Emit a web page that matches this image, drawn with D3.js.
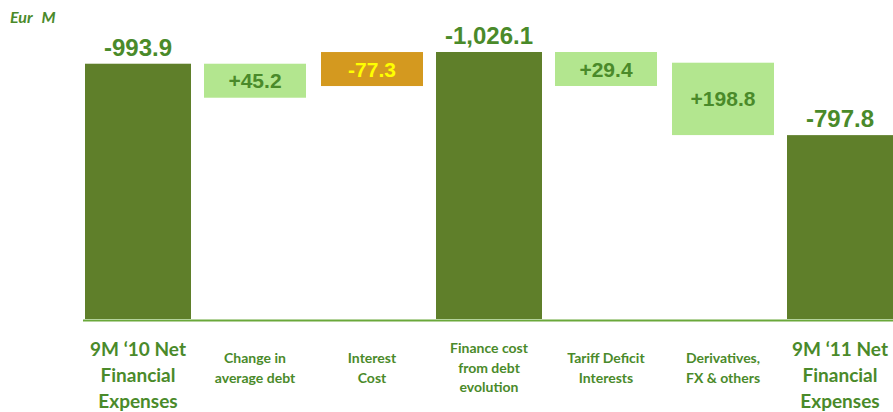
<!DOCTYPE html>
<html>
<head>
<meta charset="utf-8">
<script src="https://cdn.jsdelivr.net/npm/d3@7"></script>
<style>
  html, body { margin: 0; padding: 0; background: #ffffff; }
  svg { display: block; }
</style>
</head>
<body>
<svg id="chart" width="893" height="412"></svg>
<script>
// Net financial expenses bridge, 9M '10 -> 9M '11 (Eur M)
const categories = ["c1", "c2", "c3", "c4", "c5", "c6", "c7"];
const categoryLines = [
  ["9M \u201810 Net", "Financial", "Expenses"],
  ["Change in", "average debt"],
  ["Interest", "Cost"],
  ["Finance cost", "from debt", "evolution"],
  ["Tariff Deficit", "Interests"],
  ["Derivatives,", "FX & others"],
  ["9M \u201811 Net", "Financial", "Expenses"]
];
// "total" bars stand on the baseline, "delta" boxes float between levels
const kinds = ["total", "delta", "delta", "total", "delta", "delta", "total"];
const values = [-993.9, 45.2, -77.3, -1026.1, 29.4, 198.8, -797.8];
const valueLabels = ["-993.9", "+45.2", "-77.3", "-1,026.1", "+29.4", "+198.8", "-797.8"];
const unitWords = ["Eur", "M"];
const axisFloor = 290;

const svg = d3.select("#chart");

// Build waterfall levels (expense magnitude)
let level = 0;
const rows = values.map((v, i) => {
  if (kinds[i] === "total") {
    level = -v;
    return { key: categories[i], kind: "total", v, from: 0, to: level, i };
  }
  const from = level;
  level = level - v;
  return { key: categories[i], kind: "delta", v, from, to: level, i };
});

const x = d3.scaleBand()
  .domain(categories)
  .range([79.5, 898.5])
  .paddingInner(0.094)
  .paddingOuter(0.047);

const y = d3.scaleLinear()
  .domain([axisFloor, d3.max(rows, d => Math.max(d.from, d.to))])
  .range([320, 52]);

const colBar = "#5f7f2a";
const colUp = "#b3e68f";
const colDown = "#d4991f";
const colText = "#4a8a2a";
const minBox = 34;
const inset = 2;

// Totals
const totals = rows.filter(d => d.kind === "total");
svg.selectAll("rect.total").data(totals).enter().append("rect")
  .attr("class", "total")
  .attr("x", d => x(d.key))
  .attr("width", x.bandwidth())
  .attr("y", d => y(d.to))
  .attr("height", d => 319 - y(d.to))
  .attr("fill", colBar);

svg.selectAll("text.totalLabel").data(totals).enter().append("text")
  .attr("class", "totalLabel")
  .attr("x", d => x(d.key) + x.bandwidth() / 2)
  .attr("y", d => y(d.to) - 8)
  .attr("text-anchor", "middle")
  .attr("font-family", "Liberation Sans, Arial, sans-serif")
  .attr("font-weight", "bold")
  .attr("font-size", 24)
  .attr("fill", colText)
  .text(d => valueLabels[d.i]);

// Floating change boxes
const deltas = rows.filter(d => d.kind === "delta");
const boxTop = d => y(Math.max(d.from, d.to));
const boxH = d => Math.max(Math.abs(y(d.from) - y(d.to)), minBox);

svg.selectAll("rect.delta").data(deltas).enter().append("rect")
  .attr("class", "delta")
  .attr("x", d => x(d.key) + inset)
  .attr("width", x.bandwidth() - 2 * inset)
  .attr("y", boxTop)
  .attr("height", boxH)
  .attr("fill", d => d.v >= 0 ? colUp : colDown);

svg.selectAll("text.deltaLabel").data(deltas).enter().append("text")
  .attr("class", "deltaLabel")
  .attr("x", d => x(d.key) + x.bandwidth() / 2)
  .attr("y", d => boxTop(d) + boxH(d) / 2)
  .attr("dy", "0.36em")
  .attr("text-anchor", "middle")
  .attr("font-family", "Liberation Sans, Arial, sans-serif")
  .attr("font-weight", "bold")
  .attr("font-size", 21)
  .attr("fill", d => d.v >= 0 ? colText : "#ffff00")
  .text(d => valueLabels[d.i]);

// Baseline
svg.append("line")
  .attr("x1", 83).attr("x2", 893)
  .attr("y1", 320.5).attr("y2", 320.5)
  .attr("stroke", "#6aa83a")
  .attr("stroke-width", 2);

// Category labels
categories.forEach((c, i) => {
  const big = kinds[i] === "total" && i !== 3;
  const lines = categoryLines[i];
  const fs = big ? 19 : 14;
  const lh = big ? 26 : 19.5;
  const center = big ? 375 : 368;
  const t = svg.append("text")
    .attr("text-anchor", "middle")
    .attr("font-family", "Lato, 'Open Sans', sans-serif")
    .attr("font-weight", "bold")
    .attr("font-size", fs)
    .attr("fill", colText);
  lines.forEach((ln, k) => {
    t.append("tspan")
      .attr("x", x(c) + x.bandwidth() / 2)
      .attr("y", center + (k - (lines.length - 1) / 2) * lh)
      .attr("dy", "0.35em")
      .text(ln);
  });
});

// Unit label
const unit = svg.append("text")
  .attr("x", 10).attr("y", 23)
  .attr("font-family", "Lato, 'Open Sans', sans-serif")
  .attr("font-weight", "bold")
  .attr("font-style", "italic")
  .attr("font-size", 16)
  .attr("fill", colText);
unit.append("tspan").text(unitWords[0]);
unit.append("tspan").attr("dx", 9).text(unitWords[1]);
</script>
</body>
</html>
